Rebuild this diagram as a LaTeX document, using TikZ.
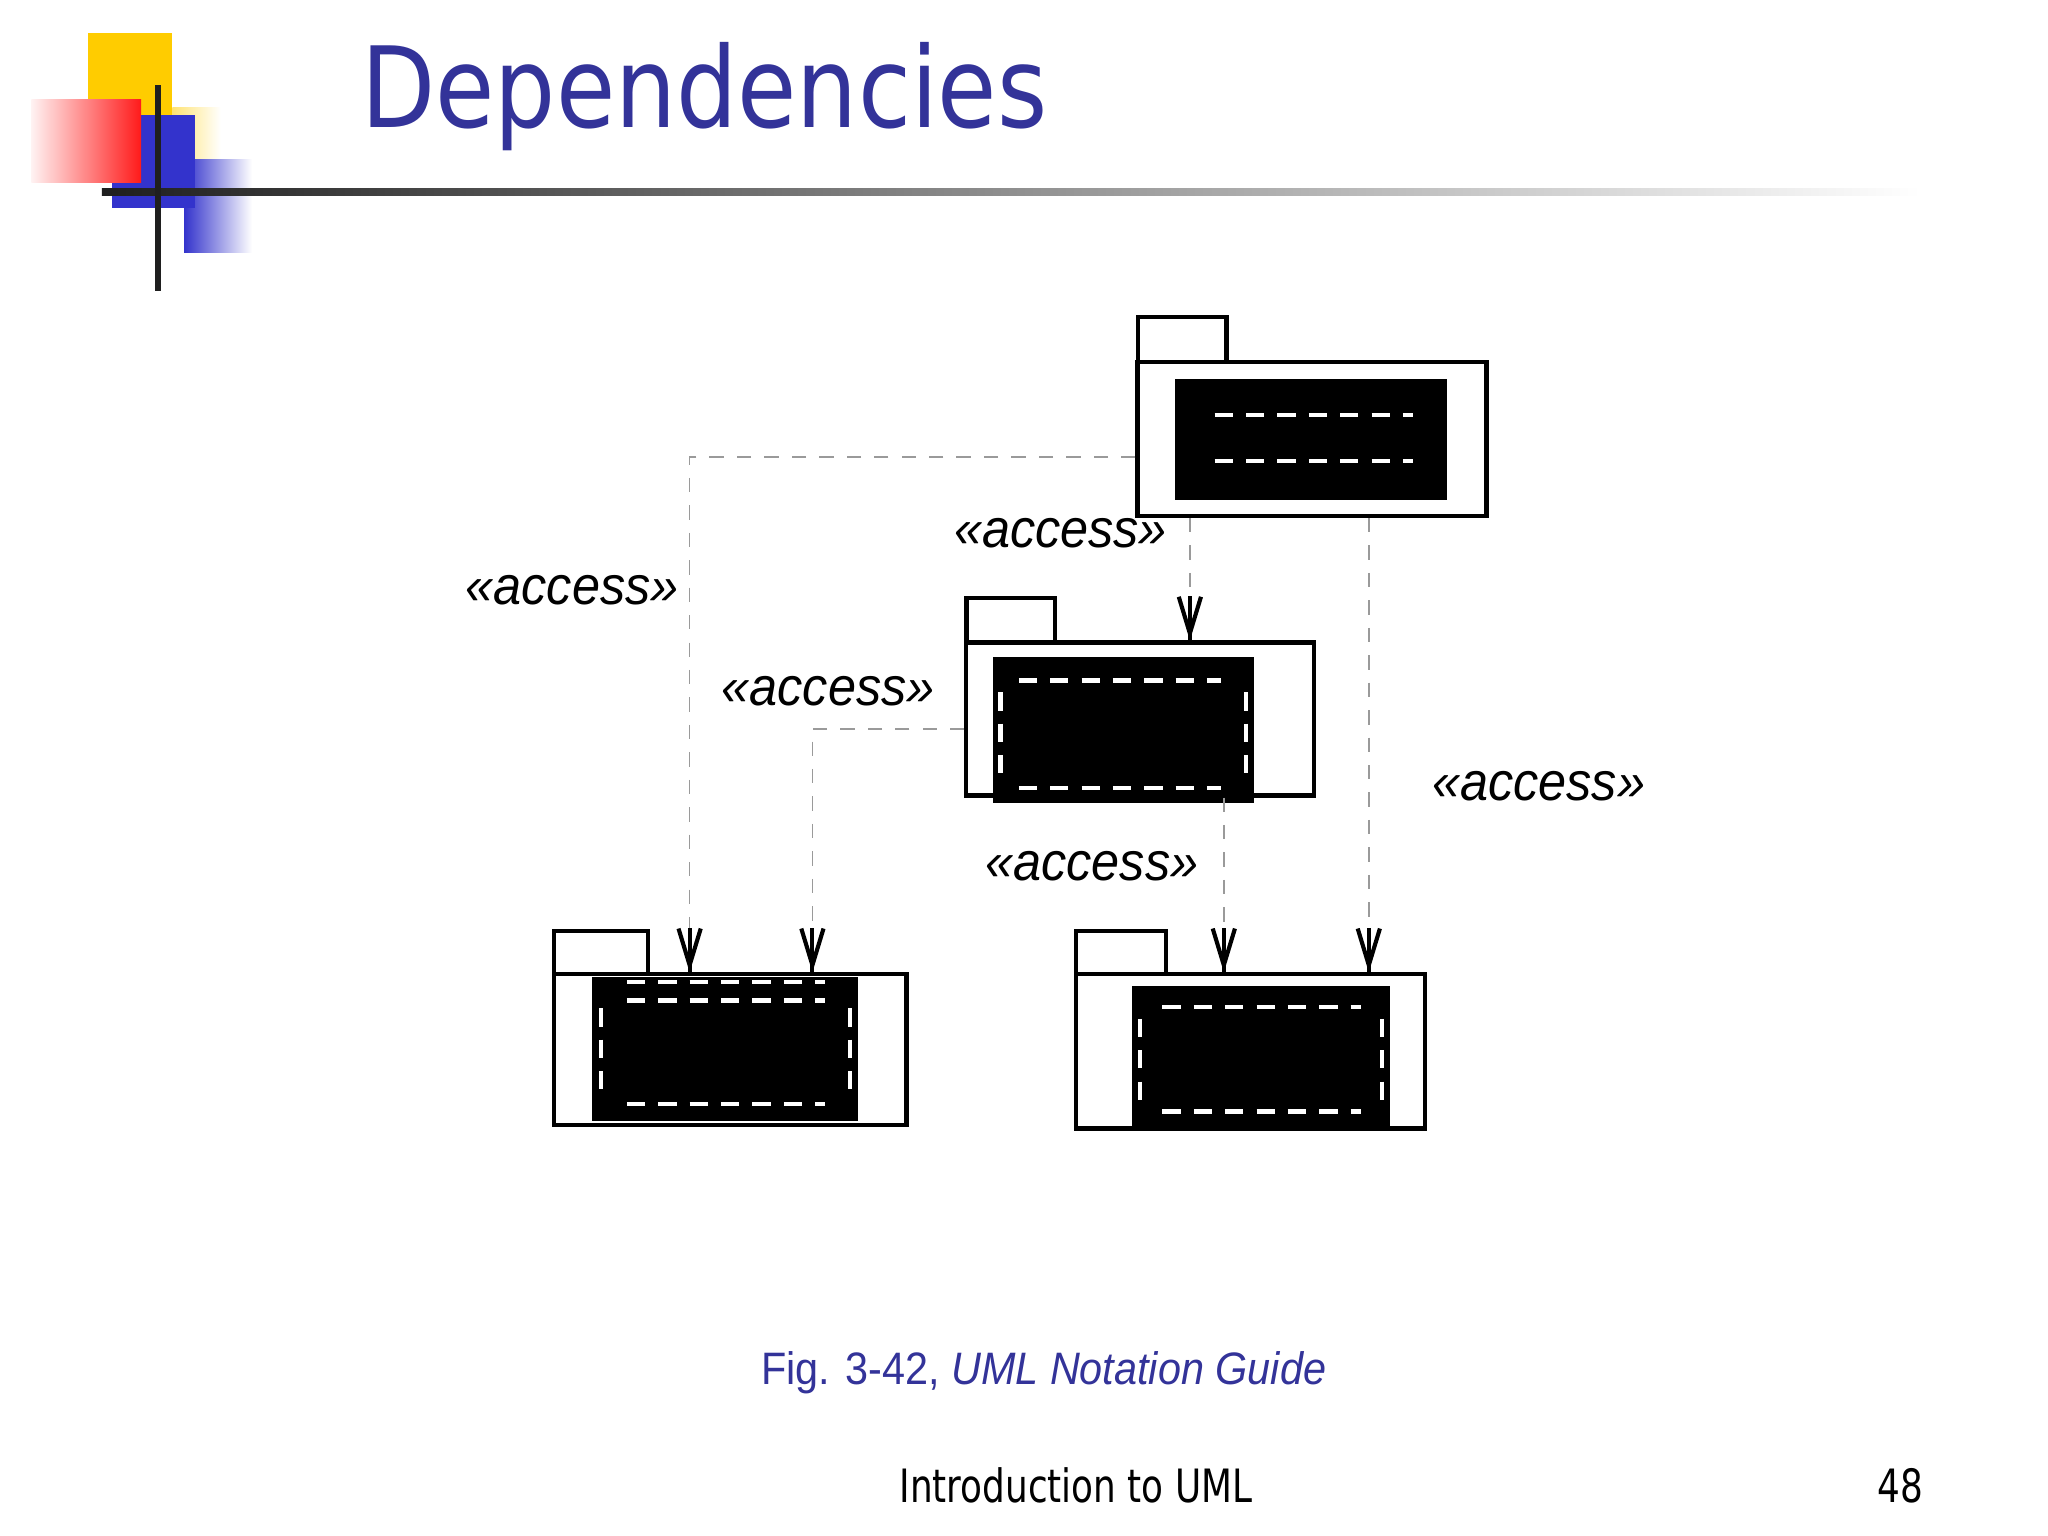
\documentclass[tikz,border=0pt]{standalone}
\usepackage{fontspec}
\setmainfont{Liberation Sans}
\newfontfamily\tahoma{DejaVu Sans}
\usetikzlibrary{arrows.meta}
\definecolor{titleblue}{HTML}{333399}
\definecolor{logoyellow}{HTML}{FFCC00}
\definecolor{logoblue}{HTML}{3333CC}
\definecolor{logored}{HTML}{FF1A1A}
\definecolor{depgray}{HTML}{9A9A9A}
\tikzset{
  pkg/.style={draw=black, line width=0.9pt, fill=white, inner sep=0pt, rectangle},
  blob/.style={fill=black, inner sep=0pt, rectangle},
  wdash/.style={white, line width=0.9pt, dash pattern=on 0.14cm off 0.1cm},
  dep/.style={draw=depgray, line width=0.35pt, dash pattern=on 0.11cm off 0.1cm,
    -{Straight Barb[length=0.28cm,width=0.17cm,line width=0.9pt,color=black]}},
  stem/.style={draw=black, line width=0.9pt},
  lbl/.style={font=\itshape\fontsize{11.8}{14}\selectfont, inner sep=0pt}
}
\begin{document}
\begin{tikzpicture}[x=0.01cm,y=-0.01cm]
\useasboundingbox (0,0) rectangle (1568,1176);
\fill[white] (0,0) rectangle (1568,1176);
% logo
\shade[left color=logoyellow!55, right color=white] (132,82) rectangle (169,122);
\fill[logoyellow] (67,25) rectangle (132,88);
\shade[left color=logoblue, right color=white] (141,122) rectangle (193,193);
\fill[logoblue] (86,88) rectangle (149,159);
\shade[left color=red!5, right color=logored] (24,76) rectangle (108,140);
\shade[left color=black!88, middle color=black!60, right color=white] (78,144.5) rectangle (1470,149.5);
\fill[black!88] (119,65) rectangle (123,223);
% title
\node[anchor=base west, inner sep=0pt, text=titleblue, font=\tahoma\fontsize{24.4}{28}\selectfont] (title) at (276,98) {\scalebox{0.86}[1]{Dependencies}};
% package A
\node[pkg, minimum width=0.68cm, minimum height=0.34cm] (Atab) at (905,260) {};
\node[pkg, minimum width=2.67cm, minimum height=1.18cm] (Abody) at (1004.5,336) {};
\node[blob, minimum width=2.08cm, minimum height=0.93cm] (Ablob) at (1004,336.5) {};
\draw[wdash] (930,318) -- (1082,318);
\draw[wdash] (930,353) -- (1082,353);
% package B
\node[pkg, minimum width=0.68cm, minimum height=0.34cm] (Btab) at (774,475) {};
\node[pkg, minimum width=2.66cm, minimum height=1.17cm] (Bbody) at (873,550.5) {};
\node[blob, minimum width=2.00cm, minimum height=1.12cm] (Bblob) at (860,559) {};
\draw[wdash] (780,521) -- (935,521);
\draw[wdash] (780,603) -- (935,603);
\draw[wdash] (766,530) -- (766,600);
\draw[wdash] (954,530) -- (954,600);
% package C
\node[pkg, minimum width=0.72cm, minimum height=0.33cm] (Ctab) at (460,729.5) {};
\node[pkg, minimum width=2.70cm, minimum height=1.15cm] (Cbody) at (559,803.5) {};
\node[blob, minimum width=2.04cm, minimum height=1.10cm] (Cblob) at (555,803) {};
\draw[wdash] (480,752) -- (632,752);
\draw[wdash] (480,766) -- (632,766);
\draw[wdash] (480,845) -- (632,845);
\draw[wdash] (460,772) -- (460,840);
\draw[wdash] (651,772) -- (651,840);
% package D
\node[pkg, minimum width=0.69cm, minimum height=0.33cm] (Dtab) at (858.5,729.5) {};
\node[pkg, minimum width=2.67cm, minimum height=1.18cm] (Dbody) at (957.5,805) {};
\node[blob, minimum width=1.97cm, minimum height=1.09cm] (Dblob) at (965.5,809.5) {};
\draw[wdash] (890,771) -- (1042,771);
\draw[wdash] (890,851) -- (1042,851);
\draw[wdash] (873,780) -- (873,845);
\draw[wdash] (1058,780) -- (1058,845);
% connectors
\coordinate (k1) at (528,350);
\coordinate (k2) at (911,0);
\coordinate (k3) at (1048,0);
\coordinate (k4) at (622,558);
\coordinate (k5) at (937,0);
\draw[dep] (Abody.west |- k1) -- (k1) -- (k1 |- Cbody.north);
\draw[dep] (Abody.south -| k2) -- (Bbody.north -| k2);
\draw[dep] (Abody.south -| k3) -- (Dbody.north -| k3);
\draw[dep] (Bbody.west |- k4) -- (k4) -- (k4 |- Cbody.north);
\draw[dep] (Bbody.south -| k5) -- (Dbody.north -| k5);
\draw[stem] (k1 |- Cbody.north) -- ++(0,-34);
\draw[stem] (k2 |- Bbody.north) -- ++(0,-34);
\draw[stem] (k3 |- Dbody.north) -- ++(0,-34);
\draw[stem] (k4 |- Cbody.north) -- ++(0,-34);
\draw[stem] (k5 |- Dbody.north) -- ++(0,-34);
% labels
\node[lbl] (l1) at (438,452) {\scalebox{0.93}[1]{«access»}};
\node[lbl] (l2) at (812,408) {\scalebox{0.93}[1]{«access»}};
\node[lbl] (l3) at (1178,602) {\scalebox{0.93}[1]{«access»}};
\node[lbl] (l4) at (634,529) {\scalebox{0.93}[1]{«access»}};
\node[lbl] (l5) at (836,663) {\scalebox{0.93}[1]{«access»}};
% caption and footer
\node[anchor=base west, inner sep=0pt, text=titleblue, font=\fontsize{9.9}{12}\selectfont] (cap) at (582,1060) {\scalebox{0.91}[1]{Fig. 3-42, \textit{UML Notation Guide}}};
\node[anchor=base west, inner sep=0pt, font=\tahoma\fontsize{10}{12}\selectfont] (foot) at (688,1150) {\scalebox{0.78}[1]{Introduction to UML}};
\node[anchor=base east, inner sep=0pt, font=\tahoma\fontsize{10}{12}\selectfont] (pnum) at (1473,1150) {\scalebox{0.78}[1]{48}};
\end{tikzpicture}
\end{document}
